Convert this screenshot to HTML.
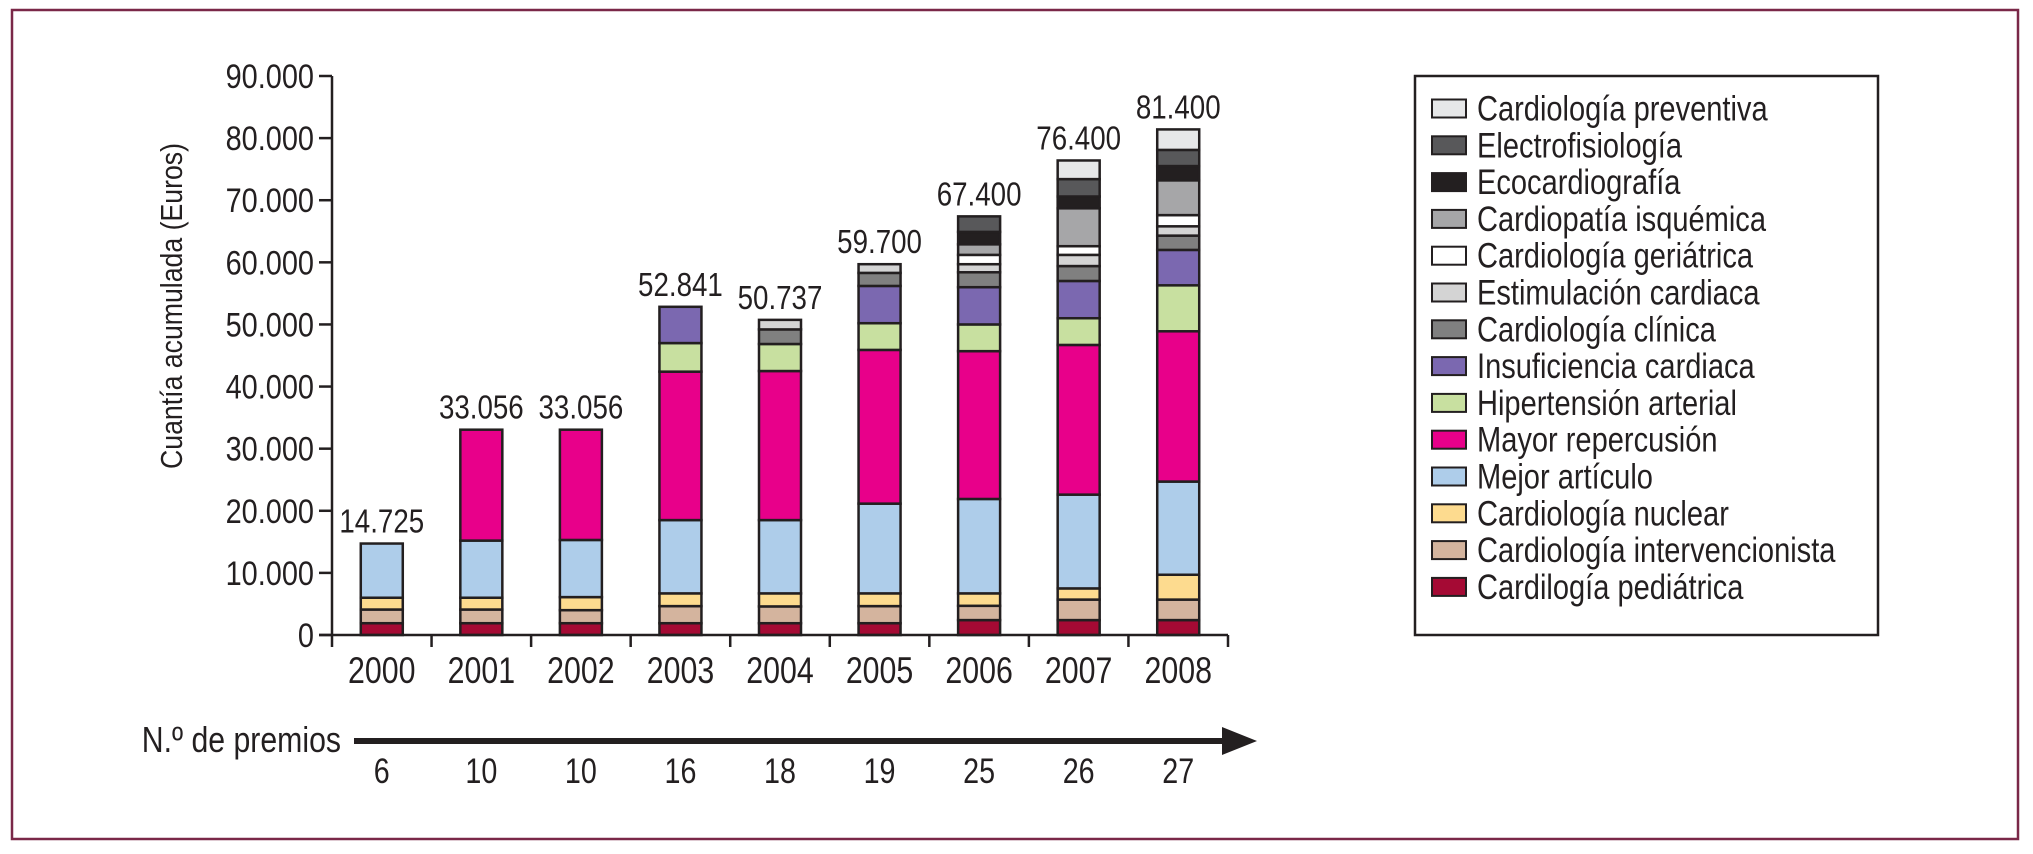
<!DOCTYPE html>
<html><head><meta charset="utf-8"><style>
html,body{margin:0;padding:0;background:#fff;}
svg{display:block;font-family:"Liberation Sans",sans-serif;}
</style></head><body>
<svg id="chart" width="2033" height="854" viewBox="0 0 2033 854" xmlns="http://www.w3.org/2000/svg">
<rect x="12" y="10" width="2006" height="829" fill="none" stroke="#7a2848" stroke-width="2.5"/>
<text transform="translate(182,306) rotate(-90) scale(0.86,1)" text-anchor="middle" font-size="31" fill="#231f20">Cuantía acumulada (Euros)</text>
<g id="bars"></g>
<g id="axes"></g>
<g id="legend"></g>
</svg>
<script>
const years = ["2000","2001","2002","2003","2004","2005","2006","2007","2008"];
const totalLabels = ["14.725","33.056","33.056","52.841","50.737","59.700","67.400","76.400","81.400"];
const premios = ["6","10","10","16","18","19","25","26","27"];
const yTicks = [0,10000,20000,30000,40000,50000,60000,70000,80000,90000];
const yTickLabels = ["0","10.000","20.000","30.000","40.000","50.000","60.000","70.000","80.000","90.000"];
const seriesNames = ["Cardilogía pediátrica","Cardiología intervencionista","Cardiología nuclear","Mejor artículo","Mayor repercusión","Hipertensión arterial","Insuficiencia cardiaca","Cardiología clínica","Estimulación cardiaca","Cardiología geriátrica","Cardiopatía isquémica","Ecocardiografía","Electrofisiología","Cardiología preventiva"];
const seriesColors = ["#a50a34","#d4b49e","#fddb8f","#aecdea","#e8008a","#c8e0a0","#7b68b0","#808080","#d4d4d4","#ffffff","#a6a6a8","#231f20","#58585a","#e6e7e8"];
const pediatrica      = [1900,1900,1900,1900,1900,1900,2400,2400,2400];
const intervencion    = [2200,2200,2100,2750,2700,2750,2300,3300,3300];
const nuclear         = [1900,1900,2100,2050,2100,2050,2000,1800,4000];
const mejorArticulo   = [8725,9200,9200,11800,11800,14450,15200,15100,15000];
const mayorRepercusion= [0,17856,17756,23900,24000,24750,23800,24100,24200];
const hipertension    = [0,0,0,4600,4350,4300,4300,4300,7400];
const insuficiencia   = [0,0,0,5841,0,6000,6000,6000,5700];
const clinica         = [0,0,0,0,2350,2100,2400,2400,2300];
const estimulacion    = [0,0,0,0,1537,1400,1300,1800,1500];
const geriatrica      = [0,0,0,0,0,0,1500,1400,1800];
const isquemica       = [0,0,0,0,0,0,1700,6100,5600];
const ecocardio       = [0,0,0,0,0,0,2000,1900,2300];
const electrofisio    = [0,0,0,0,0,0,2500,2800,2600];
const preventiva      = [0,0,0,0,0,0,0,3000,3300];
const series = [pediatrica,intervencion,nuclear,mejorArticulo,mayorRepercusion,hipertension,insuficiencia,clinica,estimulacion,geriatrica,isquemica,ecocardio,electrofisio,preventiva];

const NS="http://www.w3.org/2000/svg";
const X0=332, X1=1228, Y0=635, Y90=76, YMAX=90000;
const cw=(X1-X0)/years.length, bw=42;
const xc=i=>X0+cw*(i+0.5);
const ys=v=>Y0-(v/YMAX)*(Y0-Y90);
function mk(tag,attrs,parent){const e=document.createElementNS(NS,tag);for(const k in attrs)e.setAttribute(k,attrs[k]);parent.appendChild(e);return e;}
function txt(x,y,s,size,anchor,parent,sx){
  const t=mk('text',{transform:'translate('+x+','+y+') scale('+(sx||0.82)+',1)',"text-anchor":anchor,"font-size":size,fill:"#231f20"},parent);
  t.textContent=s;return t;
}
const gb=document.getElementById('bars'), ga=document.getElementById('axes'), gl=document.getElementById('legend');

years.forEach((y,i)=>{
  let cum=0;
  series.forEach((s,si)=>{
    const v=s[i]; if(!v) return;
    const r=mk('rect',{x:xc(i)-bw/2,y:ys(cum+v),width:bw,height:ys(cum)-ys(cum+v),fill:seriesColors[si],stroke:"#231f20","stroke-width":2.5},gb);
    
    
    cum+=v;
  });
  const t=txt(xc(i),ys(cum)-11,totalLabels[i],33,"middle",gb,0.84);
  
  
  const yl=txt(xc(i),683,y,37,"middle",ga,0.82);
  
  
  const pl=txt(xc(i),783,premios[i],35,"middle",ga,0.82);
  
  
  const tk=mk('line',{x1:X0+cw*(i+1),x2:X0+cw*(i+1),y1:Y0,y2:Y0+12,stroke:"#231f20","stroke-width":2.5},ga);
  
  
});
const yax=mk('line',{x1:X0,x2:X0,y1:Y90,y2:Y0+12,stroke:"#231f20","stroke-width":2.5},ga);


const xax=mk('line',{x1:X0-13,x2:X1,y1:Y0,y2:Y0,stroke:"#231f20","stroke-width":2.5},ga);


yTicks.forEach((v,i)=>{
  const l=mk('line',{x1:X0-13,x2:X0,y1:ys(v),y2:ys(v),stroke:"#231f20","stroke-width":2.5},ga);
  
  
  const t=txt(314,ys(v)+12,yTickLabels[i],34,"end",ga,0.85);
  
  
});
const pt=txt(341,752,"N.º de premios",36,"end",ga,0.84);


const al=mk('line',{x1:354,x2:1226,y1:741,y2:741,stroke:"#231f20","stroke-width":6},ga);


const ah=mk('polygon',{points:"1222,727 1257,741 1222,755",fill:"#231f20"},ga);



const lb=mk('rect',{x:1415,y:76,width:463,height:559,fill:"#fff",stroke:"#231f20","stroke-width":2.5},gl);


for(let k=0;k<seriesNames.length;k++){
  const si=seriesNames.length-1-k;
  const cy=108.5+k*36.8;
  const sw=mk('rect',{x:1432,y:cy-9,width:34,height:18,fill:seriesColors[si],stroke:"#231f20","stroke-width":2},gl);
  
  
  const t=txt(1477,cy+12,seriesNames[si],35,"start",gl,0.83);
  
  
}
</script>
</body></html>
